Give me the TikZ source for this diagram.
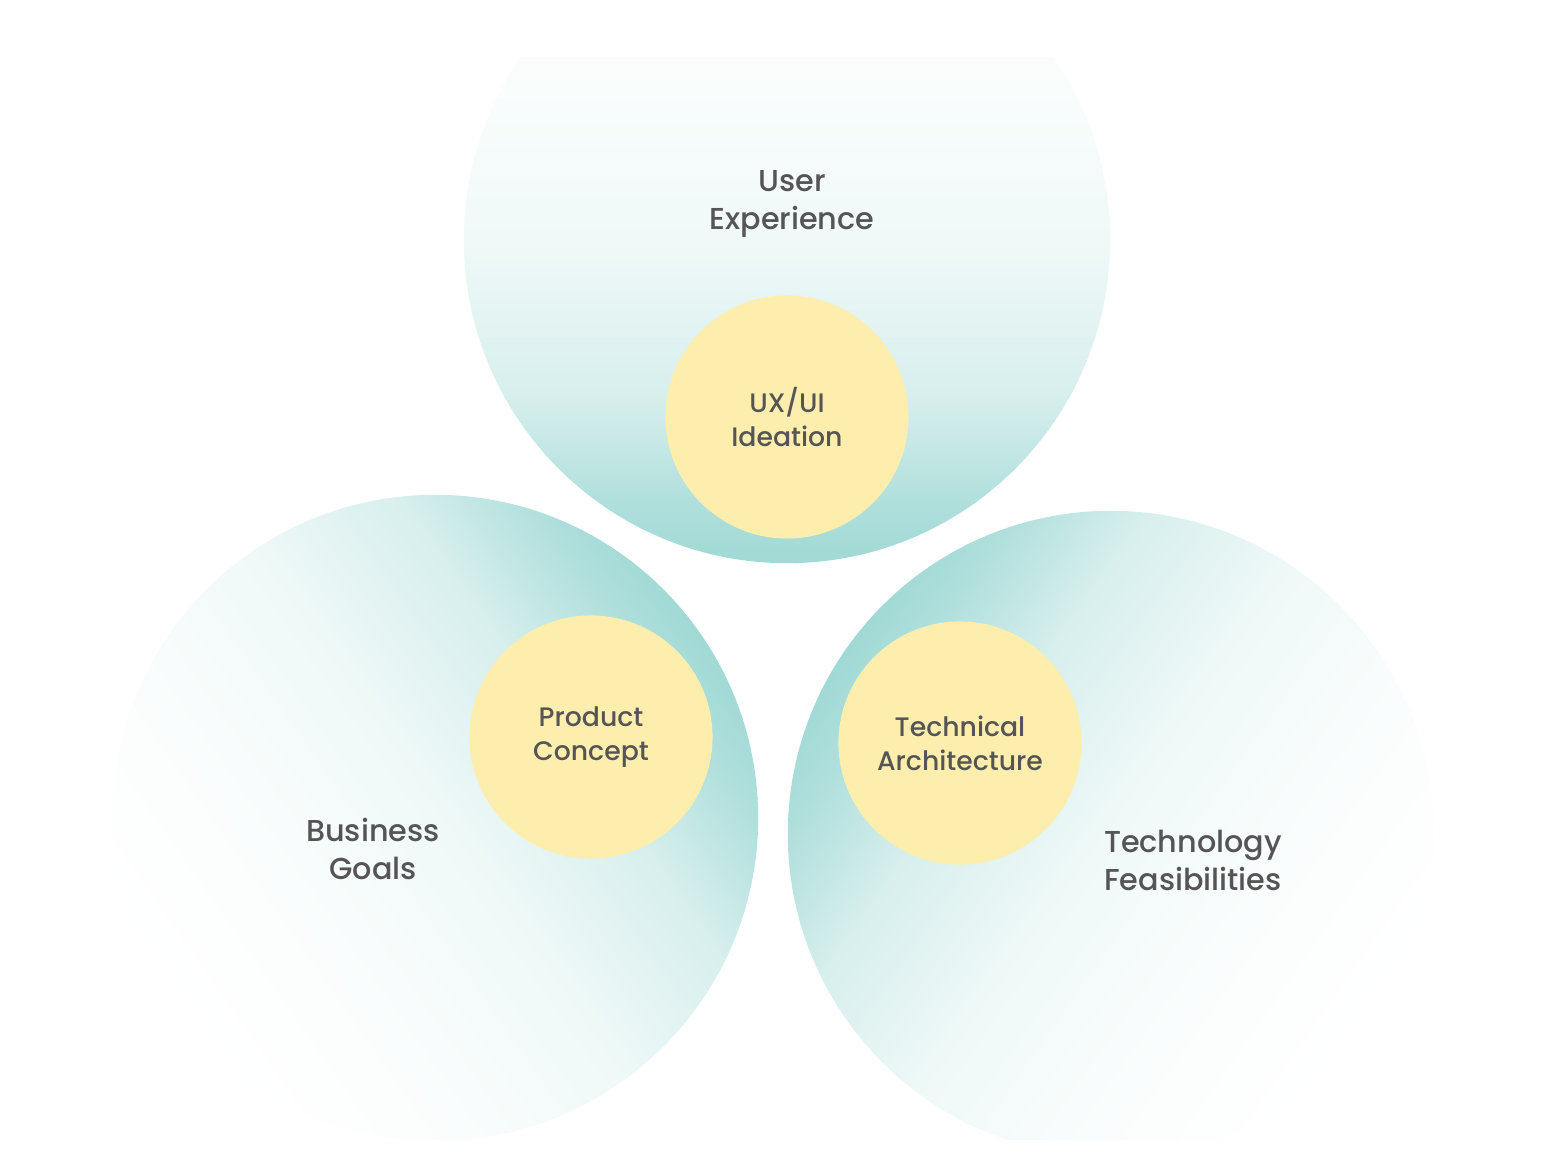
\documentclass[tikz,border=0pt]{standalone}
\usepackage{fontspec}
\setmainfont{Poppins}[UprightFont={* Medium}]
\usepackage{xcolor}
\definecolor{Teal}{RGB}{160,217,213}
\definecolor{Sun}{RGB}{253,238,174}
\definecolor{Ink}{RGB}{85,85,85}
\colorlet{T06}{Teal!4!white}
\colorlet{T18}{Teal!16!white}
\colorlet{T42}{Teal!42!white}
\colorlet{T80}{Teal!82!white}
\pgfdeclareverticalshading{bubble}{100bp}{%
  color(0bp)=(white); color(25bp)=(white); color(36bp)=(T06);
  color(50bp)=(T18); color(62bp)=(T42); color(70bp)=(T80);
  color(75bp)=(Teal); color(100bp)=(Teal)}
\tikzset{
  disc/.style={circle, fill=Sun, inner sep=0pt, minimum size=2.43cm,
    align=center, text=Ink, font=\fontsize{7.6}{9.6}\selectfont},
  area/.style={align=center, text=Ink, font=\fontsize{8.6}{10.8}\selectfont}
}

\begin{document}
\begin{tikzpicture}[x=0.01cm, y=-0.01cm]
\useasboundingbox (0,0) rectangle (1568,1176);

% big circles
\begin{scope}
\clip (0,58) rectangle (1568,1176);
\shade[shading=bubble, shading angle=180] (787,240) circle (3.23cm);
\end{scope}
\begin{scope}
\clip (0,0) rectangle (1568,1140);
\shade[shading=bubble, shading angle=-55] (435,818) circle (3.23cm);
\shade[shading=bubble, shading angle=55] (1111,834) circle (3.23cm);
\end{scope}

% inner circles
\node[disc] (ux)   at (787,417) {UX/UI\\Ideation};
\node[disc] (prod) at (591,737) {Product\\Concept};
\node[disc] (tech) at (960,743) {Technical\\Architecture};

% area labels
\node[area] (user) at (792,204)  {User\\Experience};
\node[area] (biz)  at (373,849)  {Business\\Goals};
\node[area] (feas) at (1193,860) {Technology\\Feasibilities};
\end{tikzpicture}
\end{document}
